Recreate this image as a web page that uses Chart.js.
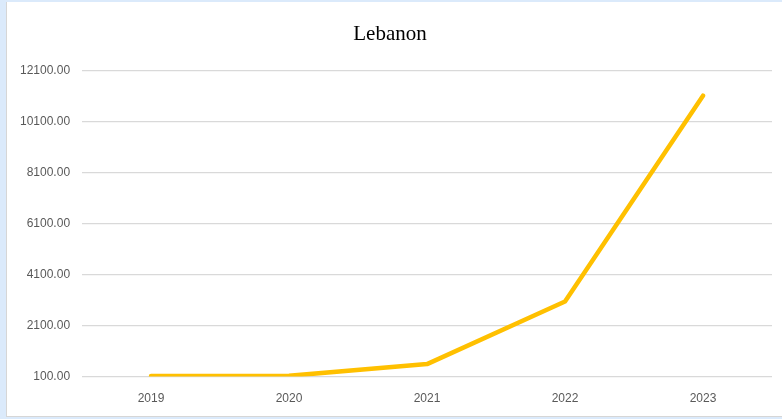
<!DOCTYPE html>
<html>
<head>
<meta charset="utf-8">
<script src="https://cdn.jsdelivr.net/npm/chart.js@4/dist/chart.umd.min.js"></script>
<style>
    body { margin: 0; background: #dbeafb; width: 782px; height: 419px; overflow: hidden; }
    #box {
        position: absolute; left: 6px; top: 2px; width: 775px; height: 414px;
        background: #fff; border-left: 1px solid #d6d6d6; border-bottom: 1px solid #d6d6d6;
    }
    #myChart { display: block; }
</style>
</head>
<body>
<div id="box"><canvas id="myChart" width="775" height="414"></canvas></div>
<script>
// chart data
const years = ['2019', '2020', '2021', '2022', '2023'];
const lebanonValues = [120, 130, 590, 3040, 11100];
const yTicks = [100, 2100, 4100, 6100, 8100, 10100, 12100];

document.addEventListener('DOMContentLoaded', function () {
    var ctx = document.getElementById('myChart').getContext('2d');
    var myChart = new Chart(ctx, {
        type: 'line',
        data: {
            labels: years,
            datasets: [{
                label: 'Lebanon',
                data: lebanonValues,
                borderColor: '#FFC000',
                backgroundColor: '#FFC000',
                borderWidth: 4.5,
                borderCapStyle: 'round',
                borderJoinStyle: 'round',
                pointRadius: 0,
                tension: 0
            }]
        },
        options: {
            responsive: false,
            animation: false,
            layout: { padding: { left: 1, right: 10, bottom: 3 } },
            plugins: {
                legend: { display: false },
                tooltip: { enabled: false },
                title: {
                    display: true,
                    text: 'Lebanon',
                    color: '#000',
                    font: { family: '"Liberation Serif", "Times New Roman", serif', size: 21, weight: 'normal' },
                    padding: { top: 20, bottom: 23 }
                }
            },
            scales: {
                x: {
                    offset: true,
                    grid: { display: false },
                    border: { display: false },
                    ticks: {
                        color: '#595959',
                        padding: 7,
                        maxRotation: 0,
                        font: { family: '"Liberation Sans", Arial, sans-serif', size: 12 }
                    }
                },
                y: {
                    min: yTicks[0],
                    max: yTicks[yTicks.length - 1],
                    afterBuildTicks: function (axis) {
                        axis.ticks = yTicks.map(v => ({ value: v }));
                    },
                    grid: { color: '#d9d9d9', lineWidth: 1.3, drawTicks: false },
                    border: { display: false },
                    ticks: {
                        color: '#595959',
                        padding: 12,
                        font: { family: '"Liberation Sans", Arial, sans-serif', size: 12 },
                        callback: function (value) { return Number(value).toFixed(2); }
                    }
                }
            }
        }
    });
});
</script>
</body>
</html>
